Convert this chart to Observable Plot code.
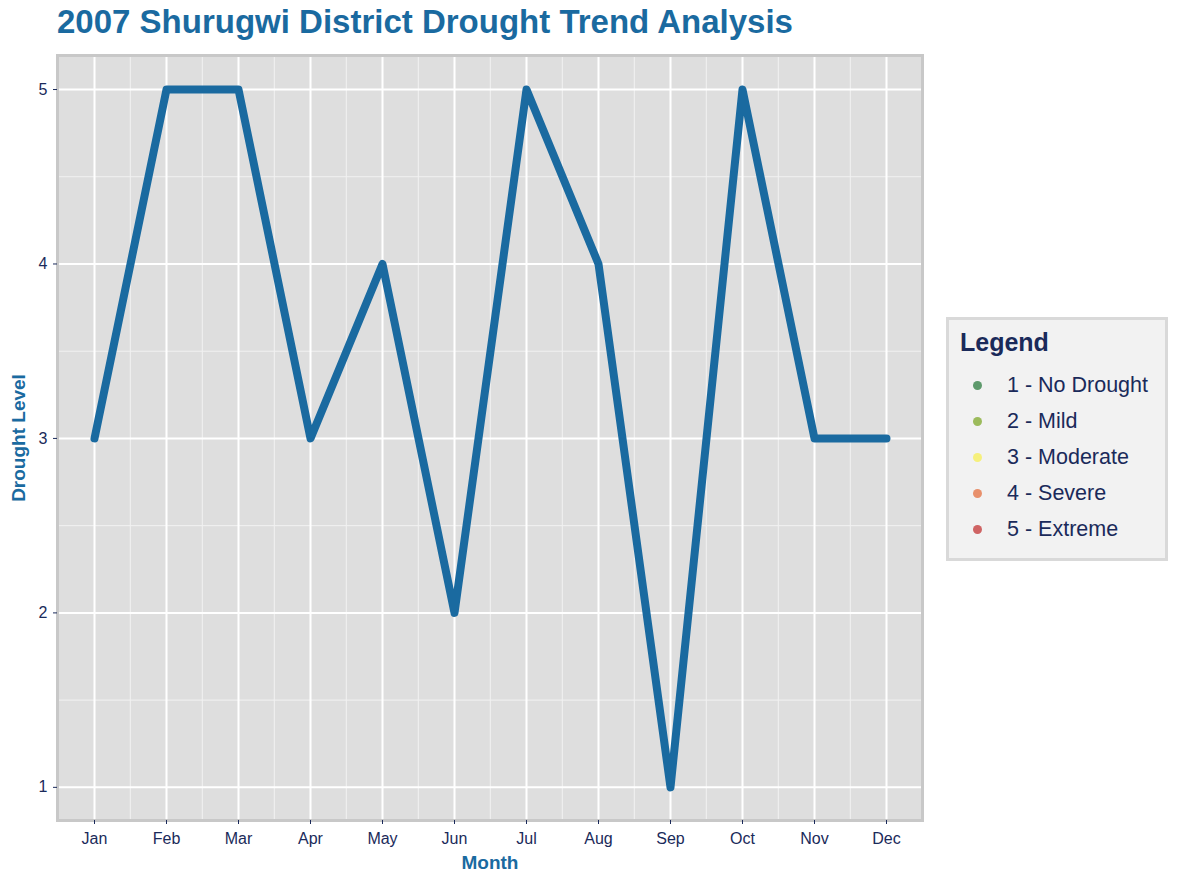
<!DOCTYPE html>
<html><head><meta charset="utf-8">
<script src="https://cdn.jsdelivr.net/npm/d3@7"></script>
<script src="https://cdn.jsdelivr.net/npm/@observablehq/plot@0.6"></script>
<style>
body{margin:0;background:#fff;font-family:Arial,"Liberation Sans",sans-serif;}
#wrap{position:relative;width:1181px;height:885px;}
#title{position:absolute;left:57px;top:3px;font-size:33px;font-weight:bold;color:#1a6aa0;}
#chart{position:absolute;left:0;top:0;}
#legend{position:absolute;left:946px;top:317px;width:222px;height:244px;background:#f2f2f2;border:3px solid #d9d9d9;box-sizing:border-box;color:#1a2a5a;}
#legend .h{font-size:25px;font-weight:bold;margin:8px 0 0 11px;}
#legend .row{display:flex;align-items:center;height:36px;font-size:21.5px;}
#legend .dot{width:9px;height:9px;border-radius:50%;margin:0 25px 0 24px;}
</style></head><body>
<div id="wrap"><div id="chart"></div><div id="title">2007 Shurugwi District Drought Trend Analysis</div>
<div id="legend"><div class="h">Legend</div><div id="rows" style="margin-top:10px"></div></div></div>
<script>
const months=["Jan","Feb","Mar","Apr","May","Jun","Jul","Aug","Sep","Oct","Nov","Dec"];
const levels=[3,5,5,3,4,2,5,4,1,5,3,3];
const legendLabels=["1 - No Drought","2 - Mild","3 - Moderate","4 - Severe","5 - Extreme"];
const legendColors=["#5e9a6c","#9cbb5c","#f6f07c","#e8906c","#cf6464"];
const data=months.map((m,i)=>({m,v:levels[i]}));
const minorY=[1.5,2.5,3.5,4.5];
const chart=Plot.plot({
  width:935,height:885,marginTop:55,marginLeft:57,marginRight:13,marginBottom:65,
  style:{fontFamily:"Arial, Liberation Sans, sans-serif",fontSize:"16px",color:"#1a2a5a"},
  x:{type:"point",domain:months,padding:0.5,label:null},
  y:{domain:[0.81,5.195],label:null},
  marks:[
    Plot.frame({fill:"#dedede"}),
    Plot.ruleY(minorY,{stroke:"#f2f2f2",strokeWidth:1}),
    Plot.ruleX(months.slice(0,-1),{stroke:"#f2f2f2",strokeWidth:1,dx:35.8}),
    Plot.ruleY([1,2,3,4,5],{stroke:"#fff",strokeWidth:2}),
    Plot.ruleX(months,{stroke:"#fff",strokeWidth:2}),
    Plot.frame({stroke:"#c8c8c8",strokeWidth:3}),
    Plot.line(data,{x:"m",y:"v",stroke:"#1a6aa0",strokeWidth:8}),
    Plot.axisX({tickSize:4,fontSize:16,fill:"#1a2a5a",tickPadding:8}),
    Plot.axisY({ticks:[1,2,3,4,5],tickSize:4,fontSize:16,fill:"#1a2a5a",tickPadding:6,tickFormat:d3.format("d")}),
  ]
});
document.getElementById("chart").appendChild(chart);
const svg=d3.select(chart);
svg.append("text").attr("x",490).attr("y",869).attr("text-anchor","middle").attr("font-size",19).attr("font-weight","bold").attr("fill","#1a6aa0").text("Month");
svg.append("text").attr("transform","translate(25,438) rotate(-90)").attr("text-anchor","middle").attr("font-size",19).attr("font-weight","bold").attr("fill","#1a6aa0").text("Drought Level");
const rows=document.getElementById("rows");
legendLabels.forEach((l,i)=>{const r=document.createElement("div");r.className="row";r.innerHTML=`<span class="dot" style="background:${legendColors[i]}"></span><span>${l}</span>`;rows.appendChild(r);});
</script></body></html>
